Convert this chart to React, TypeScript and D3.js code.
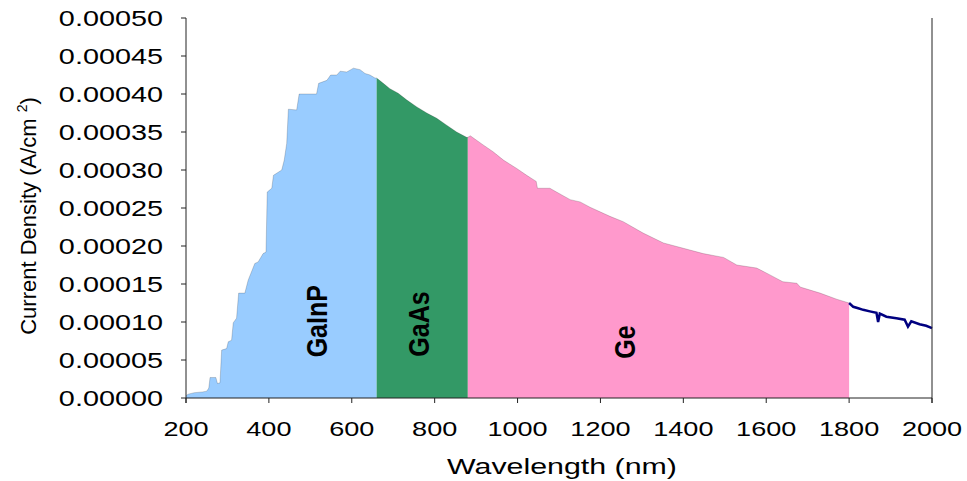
import React from "react";
import * as d3 from "d3";

const wavelengths = [
  200, 205, 220, 240, 250, 255, 258, 272, 276, 282, 286, 298, 302, 310, 314, 322,
  327, 342, 350, 366, 374, 386, 393, 396, 407, 411, 431, 437, 443, 447, 467, 473,
  515, 520, 540, 549, 564, 572, 588, 604, 620, 632, 644, 656, 660, 676, 692, 712,
  733, 757, 781, 805, 829, 853, 877, 880, 886, 917, 941, 966, 998, 1022, 1045, 1048,
  1078, 1094, 1127, 1151, 1175, 1223, 1255, 1303, 1352, 1400, 1448, 1497, 1529, 1577,
  1609, 1640, 1674, 1682, 1730, 1770, 1800, 1810, 1822, 1834, 1850, 1866, 1870, 1874,
  1890, 1914, 1934, 1942, 1950, 1970, 1986, 2000,
];
const currentDensity = [
  0.000003, 0.000005, 0.000007, 0.000008, 0.000009, 0.000013, 0.000027, 0.000027, 0.000019, 0.00002, 0.000063, 0.000065, 0.000074, 0.000076, 0.000099, 0.000105,
  0.000138, 0.000138, 0.000155, 0.000177, 0.000179, 0.00019, 0.000192, 0.000271, 0.000276, 0.000293, 0.0003, 0.000313, 0.000335, 0.00038, 0.000379, 0.0004,
  0.0004, 0.000414, 0.000418, 0.000425, 0.000425, 0.00043, 0.000429, 0.000434, 0.000432, 0.000427, 0.000425, 0.000421, 0.000421, 0.000414, 0.000407, 0.000401,
  0.000392, 0.000383, 0.000375, 0.000368, 0.000359, 0.00035, 0.000343, 0.000343, 0.000345, 0.000333, 0.000324, 0.000313, 0.000302, 0.000293, 0.000285, 0.000276,
  0.000276, 0.000271, 0.000261, 0.000258, 0.000251, 0.000239, 0.000232, 0.000217, 0.000204, 0.000197, 0.00019, 0.000185, 0.000175, 0.000171,
  0.000162, 0.000153, 0.000151, 0.000146, 0.000138, 0.00013, 0.000125, 0.00012, 0.000118, 0.000116, 0.000114, 0.000112, 0.0001, 0.000111,
  0.000107, 0.000105, 0.000103, 0.000094, 0.000101, 0.000097, 0.000095, 0.000092,
];

const bandNames = ["GaInP", "GaAs", "Ge"];
const bandStart = [200, 660, 880];
const bandEnd = [660, 880, 1800];
const bandColors = ["#99CCFF", "#339966", "#FF99CC"];
const bandLabelX = [516, 762, 1259];
const bandLabelY = [0.000101, 0.0000974, 0.0000737];

const xTicks = [200, 400, 600, 800, 1000, 1200, 1400, 1600, 1800, 2000];
const yTicks = [0, 0.00005, 0.0001, 0.00015, 0.0002, 0.00025, 0.0003, 0.00035, 0.0004, 0.00045, 0.0005];

const FONT = "'Liberation Sans', Arial, sans-serif";

export default function App() {
  const x = d3.scaleLinear().domain([200, 2000]).range([186, 932]);
  const y = d3.scaleLinear().domain([0, 0.0005]).range([398, 18]);
  const data = wavelengths.map((w, i) => ({ w, v: currentDensity[i] }));

  const area = d3
    .area<{ w: number; v: number }>()
    .x((d) => x(d.w))
    .y0(y(0))
    .y1((d) => y(d.v));
  const line = d3
    .line<{ w: number; v: number }>()
    .x((d) => x(d.w))
    .y((d) => y(d.v));

  const tail = data.filter((d) => d.w >= 1800);
  const axisColor = "#222";

  return (
    <svg
      width={967}
      height={481}
      style={{ position: "absolute", left: 0, top: 0, display: "block", background: "#fff" }}
    >
      {bandNames.map((name, i) => (
        <path
          key={name}
          d={area(data.filter((d) => d.w >= bandStart[i] && d.w <= bandEnd[i])) || ""}
          fill={bandColors[i]}
        />
      ))}
      <path
        d={line(data.filter((d) => d.w <= 1800)) || ""}
        fill="none"
        stroke="#000"
        strokeOpacity={0.25}
        strokeWidth={0.7}
      />
      <path d={line(tail) || ""} fill="none" stroke="#000080" strokeWidth={2.5} />

      {/* axes */}
      <line x1={x(200)} x2={x(200)} y1={y(0.0005)} y2={y(0) + 5} stroke={axisColor} strokeWidth={1} />
      <line x1={x(2000)} x2={x(2000)} y1={y(0.0005)} y2={y(0) + 5} stroke={axisColor} strokeWidth={1} />
      <line x1={x(200)} x2={x(2000)} y1={y(0)} y2={y(0)} stroke={axisColor} strokeWidth={1} />
      {yTicks.map((t) => (
        <g key={"y" + t}>
          <line x1={x(200) - 5} x2={x(200)} y1={y(t)} y2={y(t)} stroke={axisColor} strokeWidth={1} />
          <text
            transform={`translate(163,${y(t)}) scale(1.31,1)`}
            textAnchor="end"
            dominantBaseline="central"
            fontFamily={FONT}
            fontSize={22}
            fill="#000"
          >
            {t.toFixed(5)}
          </text>
        </g>
      ))}
      {xTicks.map((t) => (
        <g key={"x" + t}>
          <line x1={x(t)} x2={x(t)} y1={y(0)} y2={y(0) + 5} stroke={axisColor} strokeWidth={1} />
          <text
            transform={`translate(${x(t)},436) scale(1.29,1)`}
            textAnchor="middle"
            fontFamily={FONT}
            fontSize={21}
            fill="#000"
          >
            {t}
          </text>
        </g>
      ))}

      <text
        transform="translate(562,474) scale(1.38,1)"
        textAnchor="middle"
        fontFamily={FONT}
        fontSize={22}
        fill="#000"
      >
        Wavelength (nm)
      </text>
      <text
        transform="translate(36,216) rotate(-90)"
        textAnchor="middle"
        fontFamily={FONT}
        fontSize={22}
        fill="#000"
      >
        Current Density (A/cm
        <tspan> </tspan>
        <tspan dy={-9} fontSize={14}>2</tspan>
        <tspan dy={9}>)</tspan>
      </text>

      {bandNames.map((name, i) => (
        <text
          key={"l" + name}
          transform={`translate(${x(bandLabelX[i])},${y(bandLabelY[i])}) scale(1.15,1) rotate(-90)`}
          textAnchor="middle"
          dominantBaseline="central"
          fontFamily={FONT}
          fontWeight="bold"
          fontSize={25}
          fill="#000"
        >
          {name}
        </text>
      ))}
    </svg>
  );
}
